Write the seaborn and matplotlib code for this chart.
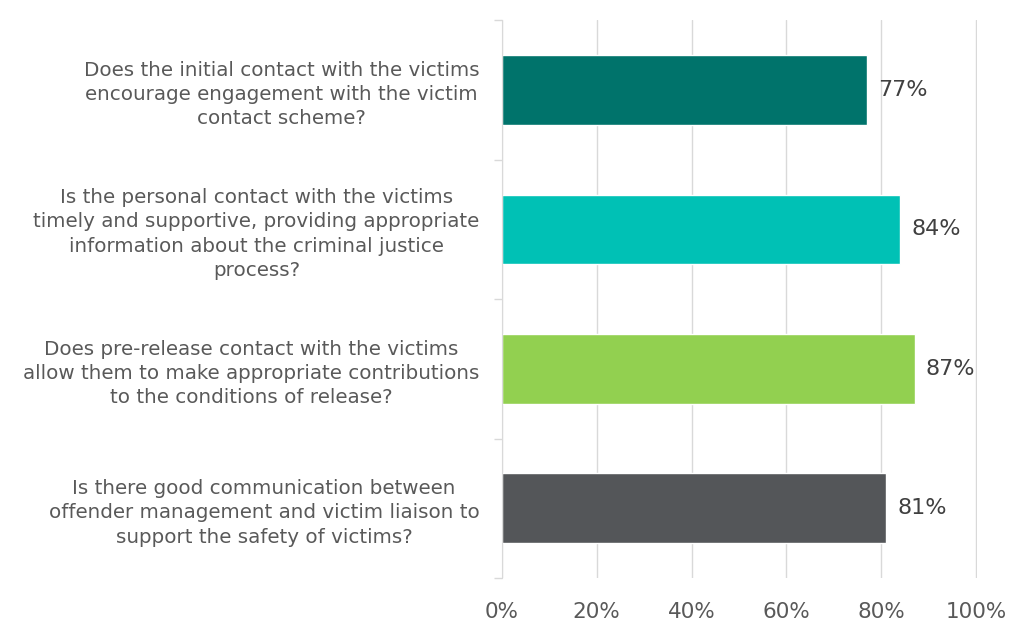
import pandas as pd
import numpy as np
import matplotlib
matplotlib.use("Agg")
import matplotlib.pyplot as plt
import seaborn as sns

questions = [
    "Does the initial contact with the victims\nencourage engagement with the victim\ncontact scheme?",
    "Is the personal contact with the victims\ntimely and supportive, providing appropriate\ninformation about the criminal justice\nprocess?",
    "Does pre-release contact with the victims\nallow them to make appropriate contributions\nto the conditions of release?",
    "Is there good communication between\noffender management and victim liaison to\nsupport the safety of victims?",
]
percent = [77, 84, 87, 81]
bar_colors = ["#00736B", "#00C1B5", "#92D050", "#545659"]
x_ticks = [0, 20, 40, 60, 80, 100]

df = pd.DataFrame({"question": questions, "percent": percent})

sns.set_style("white")
plt.rcParams["font.family"] = ["DejaVu Sans"]
text_col = "#595959"

fig = plt.figure(figsize=(10.24, 6.33), dpi=100)
ax = fig.add_axes([0.490, 0.087, 0.464, 0.881])

sns.barplot(data=df, y="question", x="percent", hue="question",
            palette=bar_colors, width=0.5, legend=False, ax=ax,
            saturation=1)

ax.set_xlim(0, 100.15)
ax.set_ylim(3.5, -0.5)
ax.set_xticks(x_ticks)
ax.set_xticklabels([f"{t}%" for t in x_ticks], fontsize=15.5, color=text_col)
ax.tick_params(axis="x", length=0, pad=17)
ax.grid(axis="x", color="#D9D9D9", linewidth=1)
ax.set_axisbelow(True)

ax.tick_params(axis="y", which="major", length=0, pad=16)
ax.set_yticks(np.arange(-0.5, 4, 1), minor=True)
ax.tick_params(axis="y", which="minor", left=True, length=6,
               color="#D9D9D9", width=1)
for lab in ax.get_yticklabels():
    lab.set_fontsize(14.3)
    lab.set_color(text_col)
    lab.set_multialignment("center")
    lab.set_linespacing(1.35)

for s in ["top", "right", "bottom"]:
    ax.spines[s].set_visible(False)
ax.spines["left"].set_color("#D9D9D9")

for i, v in enumerate(percent):
    ax.annotate(f"{v}%", (v, i), xytext=(8, 0), textcoords="offset points",
                va="center", ha="left", fontsize=16, color="#404040")

ax.set_xlabel("")
ax.set_ylabel("")
fig.savefig("out.png", dpi=100)
